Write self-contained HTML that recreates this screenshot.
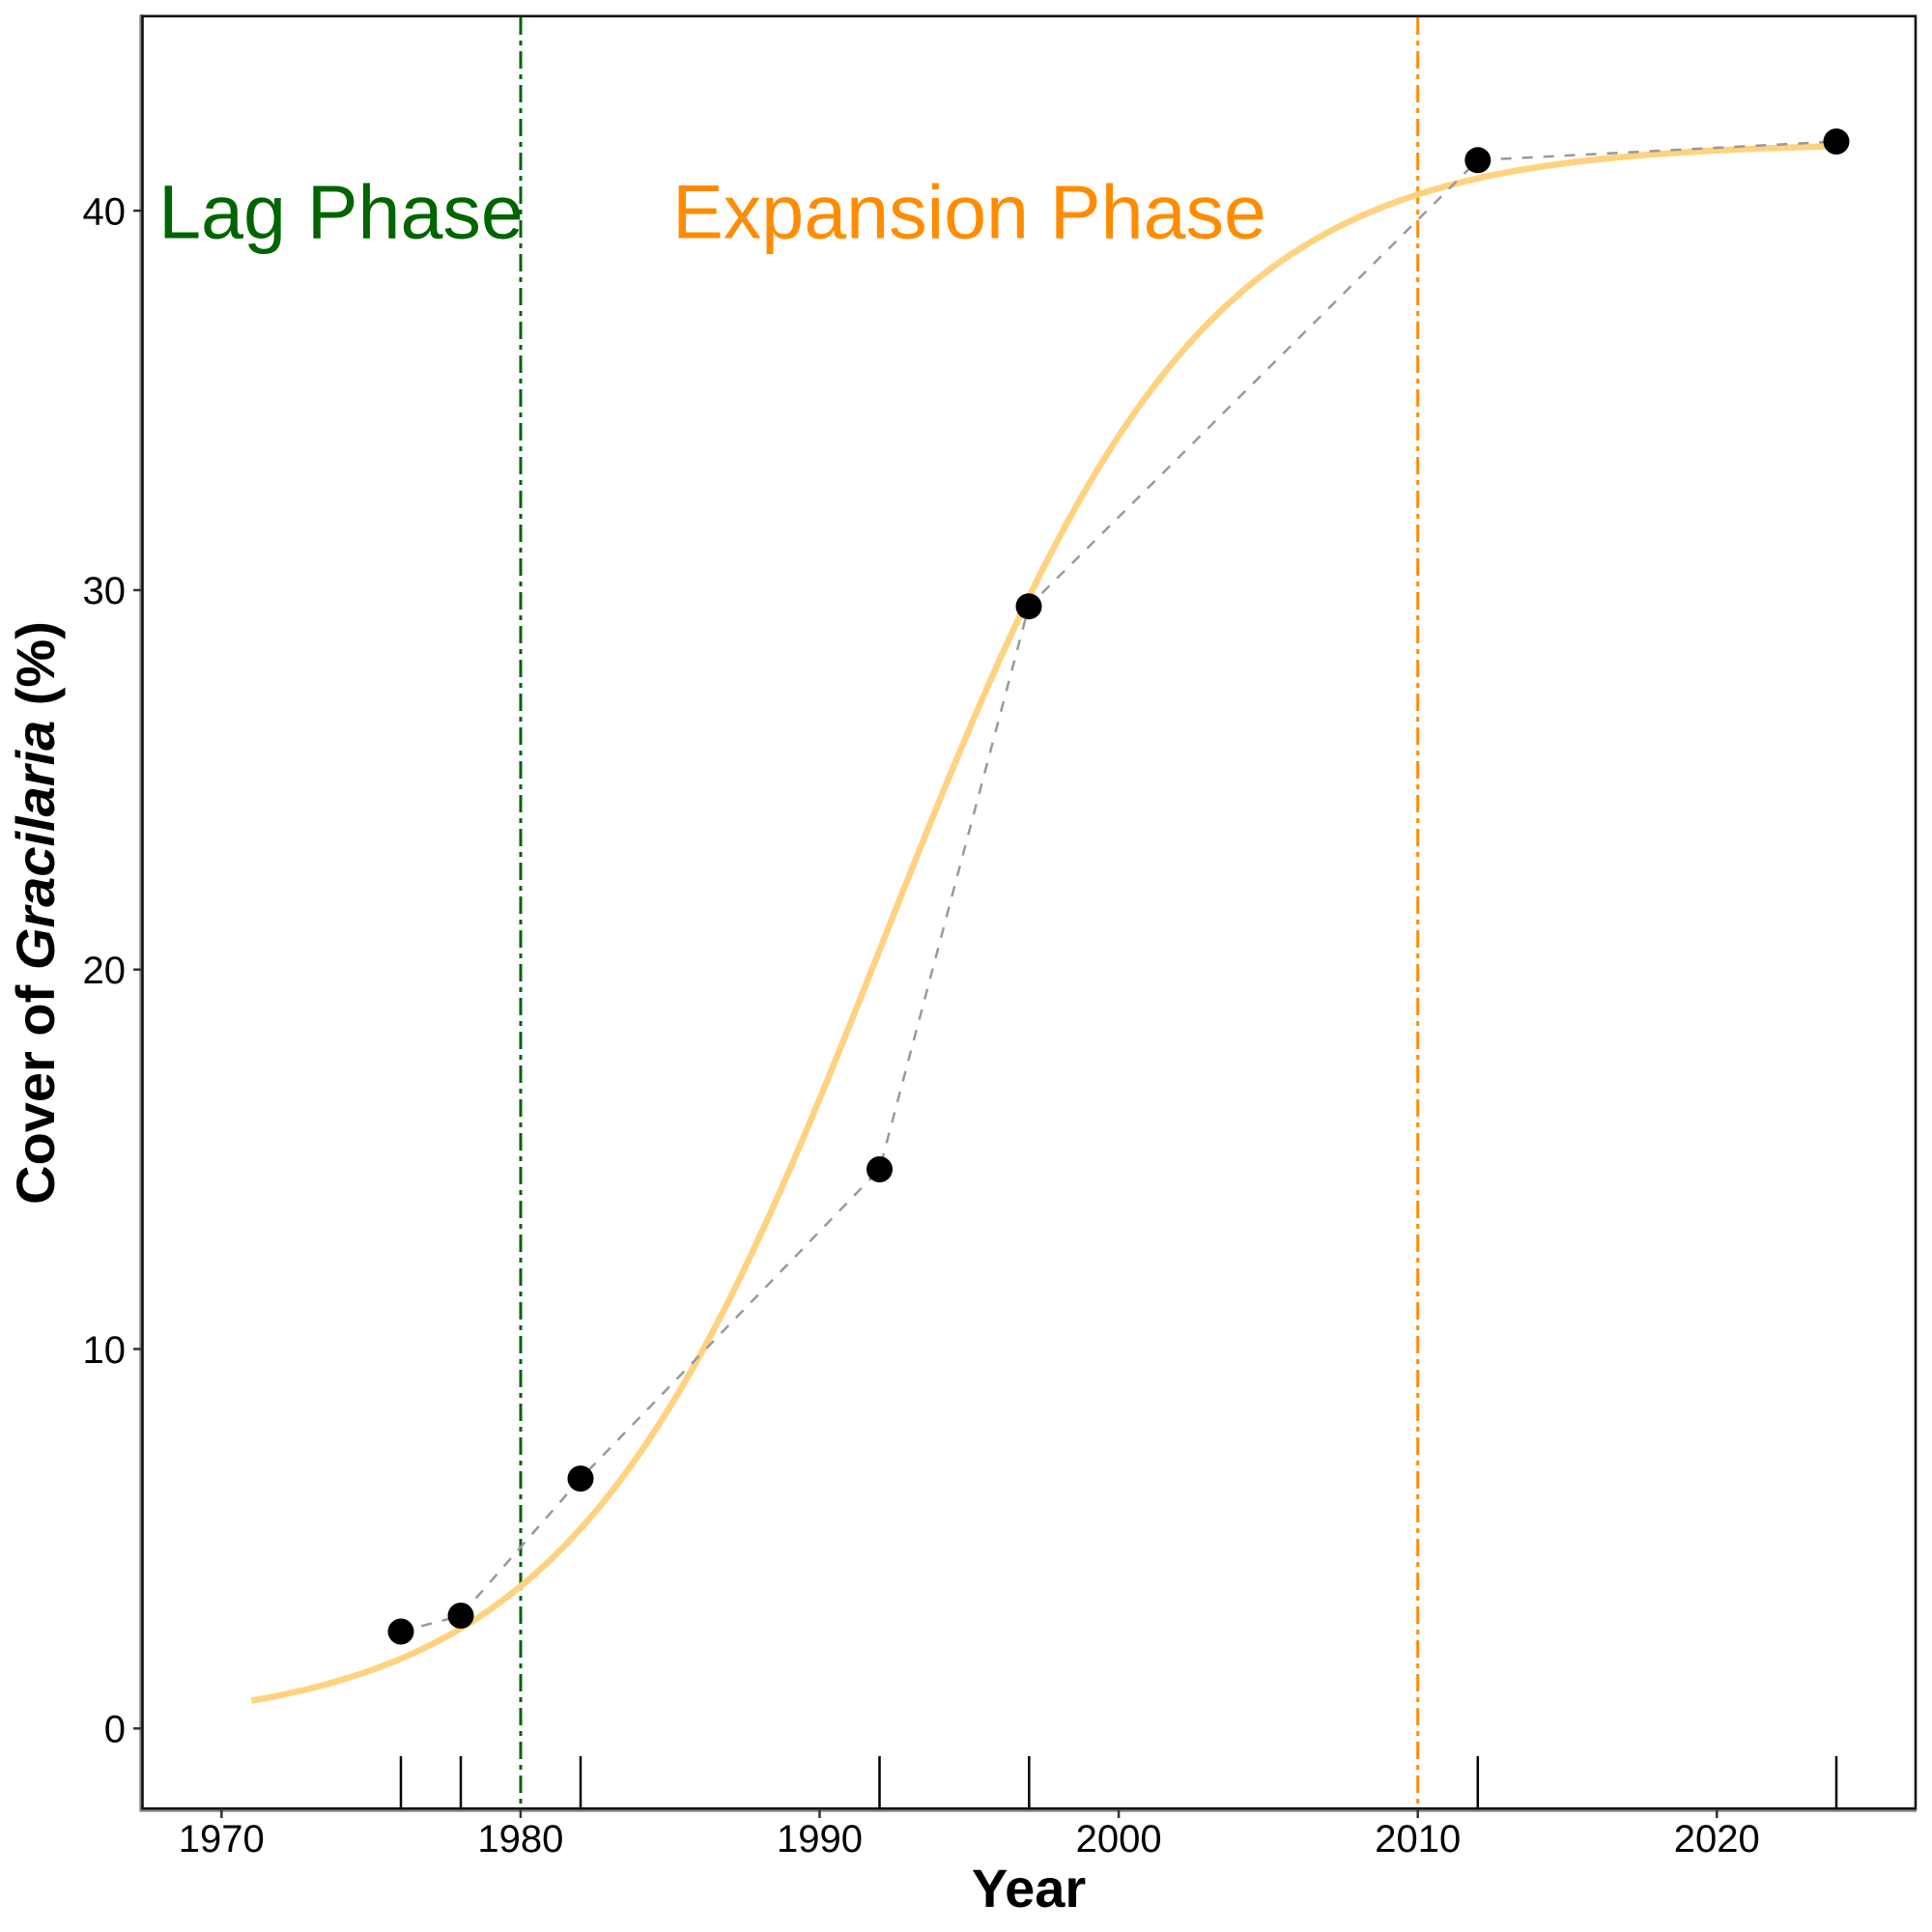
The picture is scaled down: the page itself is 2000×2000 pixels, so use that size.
<!DOCTYPE html>
<html>
<head>
<meta charset="utf-8">
<style>
html,body{margin:0;padding:0;background:#fff;}
svg{display:block;}
text{font-family:"Liberation Sans",Arial,sans-serif;}
</style>
</head>
<body>
<svg id="c" width="2000" height="2000" viewBox="0 0 2000 2000" xmlns="http://www.w3.org/2000/svg">
<rect x="0" y="0" width="2000" height="2000" fill="#fff"/>

<!-- vertical phase lines -->
<line x1="539" y1="18" x2="539" y2="1871" stroke="#006400" stroke-width="3" stroke-dasharray="18 6 5 6"/>
<line x1="1467.7" y1="18" x2="1467.7" y2="1871" stroke="#FF8C00" stroke-width="3" stroke-dasharray="18 6 5 6"/>

<!-- logistic curve -->
<path id="curve" d="" fill="none" stroke="#FFD27F" stroke-width="6.5" stroke-linecap="butt"/>

<!-- dashed connecting line -->
<polyline points="415,1689 477,1672.5 601,1530.6 910.5,1210.5 1065,627.7 1529.8,165.8 1901,146.5" fill="none" stroke="#999999" stroke-width="2.5" stroke-dasharray="11 11"/>

<!-- points -->
<g fill="#000">
<circle cx="415" cy="1689" r="13.5"/>
<circle cx="477" cy="1672.5" r="13.5"/>
<circle cx="601" cy="1530.6" r="13.5"/>
<circle cx="910.5" cy="1210.5" r="13.5"/>
<circle cx="1065" cy="627.7" r="13.5"/>
<circle cx="1529.8" cy="165.8" r="13.5"/>
<circle cx="1901" cy="146.5" r="13.5"/>
</g>

<!-- rug -->
<g stroke="#000" stroke-width="2.5">
<line x1="415" y1="1818" x2="415" y2="1872"/>
<line x1="477" y1="1818" x2="477" y2="1872"/>
<line x1="601" y1="1818" x2="601" y2="1872"/>
<line x1="910.5" y1="1818" x2="910.5" y2="1872"/>
<line x1="1065.3" y1="1818" x2="1065.3" y2="1872"/>
<line x1="1529.8" y1="1818" x2="1529.8" y2="1872"/>
<line x1="1901" y1="1818" x2="1901" y2="1872"/>
</g>

<!-- annotations -->
<text x="353" y="246.5" font-size="79" fill="#006400" text-anchor="middle">Lag Phase</text>
<text x="1003.5" y="246.5" font-size="79" fill="#FF8C00" text-anchor="middle">Expansion Phase</text>

<!-- axes / border -->
<line x1="146" y1="15" x2="146" y2="1874.5" stroke="#8a8a8a" stroke-width="3.5"/>
<line x1="144.5" y1="1874" x2="1984" y2="1874" stroke="#8a8a8a" stroke-width="3.5"/>
<rect x="147.5" y="16.7" width="1835.5" height="1855.5" fill="none" stroke="#111" stroke-width="2.6"/>

<!-- y ticks -->
<g stroke="#333" stroke-width="2.5">
<line x1="138" y1="1789.3" x2="146" y2="1789.3"/>
<line x1="138" y1="1396.5" x2="146" y2="1396.5"/>
<line x1="138" y1="1003.7" x2="146" y2="1003.7"/>
<line x1="138" y1="610.9" x2="146" y2="610.9"/>
<line x1="138" y1="218.1" x2="146" y2="218.1"/>
</g>
<g font-size="40" fill="#000" text-anchor="end">
<text x="130" y="1803.6">0</text>
<text x="130" y="1410.8">10</text>
<text x="130" y="1018">20</text>
<text x="130" y="625.2">30</text>
<text x="130" y="232.4">40</text>
</g>

<!-- x ticks -->
<g stroke="#333" stroke-width="2.5">
<line x1="229.3" y1="1874" x2="229.3" y2="1882"/>
<line x1="538.9" y1="1874" x2="538.9" y2="1882"/>
<line x1="848.5" y1="1874" x2="848.5" y2="1882"/>
<line x1="1158.1" y1="1874" x2="1158.1" y2="1882"/>
<line x1="1467.7" y1="1874" x2="1467.7" y2="1882"/>
<line x1="1777.3" y1="1874" x2="1777.3" y2="1882"/>
</g>
<g font-size="40" fill="#000" text-anchor="middle">
<text x="229.3" y="1917">1970</text>
<text x="538.9" y="1917">1980</text>
<text x="848.5" y="1917">1990</text>
<text x="1158.1" y="1917">2000</text>
<text x="1467.7" y="1917">2010</text>
<text x="1777.3" y="1917">2020</text>
</g>

<!-- axis titles -->
<text x="1065" y="1974" font-size="56" font-weight="bold" fill="#000" text-anchor="middle">Year</text>
<text transform="translate(56,945) rotate(-90)" font-size="56" font-weight="bold" fill="#000" text-anchor="middle">Cover of <tspan font-style="italic">Gracilaria</tspan> (%)</text>
</svg>
<script>
(function(){
  var K=41.8, r=0.19, t0=1992.2;
  function X(t){return 229.3+(t-1970)*30.96;}
  function Y(v){return 1789.3-v*39.28;}
  var d="";
  for(var i=0;i<=530;i++){
    var t=1971+i*0.1;
    var v=K/(1+Math.exp(-r*(t-t0)));
    d+=(i===0?"M":"L")+X(t).toFixed(2)+","+Y(v).toFixed(2);
  }
  document.getElementById("curve").setAttribute("d",d);
})();
</script>
</body>
</html>
